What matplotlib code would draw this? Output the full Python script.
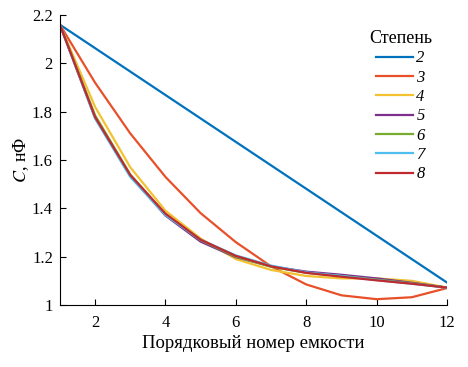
import matplotlib.pyplot as plt
import numpy as np

plt.rcParams['font.family'] = ['Liberation Serif', 'DejaVu Serif']
plt.rcParams['mathtext.fontset'] = 'stix'

x = np.arange(1, 13)

deg2 = [2.16, 2.063, 1.966, 1.869, 1.772, 1.675, 1.578, 1.481, 1.384, 1.287, 1.190, 1.093]
deg3 = [2.16, 1.92, 1.71, 1.53, 1.38, 1.26, 1.16, 1.085, 1.04, 1.024, 1.032, 1.07]
deg4 = [2.16, 1.82, 1.57, 1.39, 1.275, 1.19, 1.145, 1.12, 1.11, 1.11, 1.10, 1.072]
deg5 = [2.16, 1.775, 1.535, 1.37, 1.262, 1.198, 1.16, 1.138, 1.125, 1.11, 1.092, 1.072]
deg6 = [2.16, 1.785, 1.54, 1.375, 1.268, 1.200, 1.158, 1.133, 1.12, 1.105, 1.09, 1.072]
deg7 = [2.16, 1.772, 1.53, 1.372, 1.27, 1.205, 1.163, 1.135, 1.12, 1.103, 1.088, 1.072]
deg8 = [2.16, 1.778, 1.538, 1.378, 1.27, 1.203, 1.16, 1.133, 1.117, 1.102, 1.088, 1.072]

series = [deg2, deg3, deg4, deg5, deg6, deg7, deg8]
labels = ['2', '3', '4', '5', '6', '7', '8']
colors = ['#0072BD', '#E8502A', '#F2C230', '#7E2F8E', '#77AC30', '#4DBEEE', '#C02A2F']

fig = plt.figure(figsize=(4.68, 3.67), dpi=100)
ax = fig.add_axes([0.128, 0.169, 0.827, 0.790])

for y, lab, c in zip(series, labels, colors):
    ax.plot(x, y, color=c, lw=1.6, label=lab)

ax.set_xlim(1, 12)
ax.set_ylim(1, 2.2)
ax.set_xticks([2, 4, 6, 8, 10, 12])
ax.set_yticks([1, 1.2, 1.4, 1.6, 1.8, 2, 2.2])
ax.set_yticklabels(['1', '1.2', '1.4', '1.6', '1.8', '2', '2.2'])
ax.tick_params(direction='in', labelsize=12, length=4)
ax.tick_params(axis='y', pad=5)
ax.tick_params(axis='x', pad=7)
ax.spines['top'].set_visible(False)
ax.spines['right'].set_visible(False)

ax.set_xlabel('Порядковый номер емкости', fontsize=13.5, labelpad=3)
ax.set_ylabel(r'$C$, нФ', fontsize=13, labelpad=1)

leg = ax.legend(title='Степень', frameon=False, fontsize=12, title_fontsize=13,
                loc='upper right', bbox_to_anchor=(1.0, 1.0),
                handlelength=2.2, handletextpad=0.2, labelspacing=0.2)
for t in leg.get_texts():
    t.set_fontstyle('italic')

fig.savefig('out.png', dpi=100)
